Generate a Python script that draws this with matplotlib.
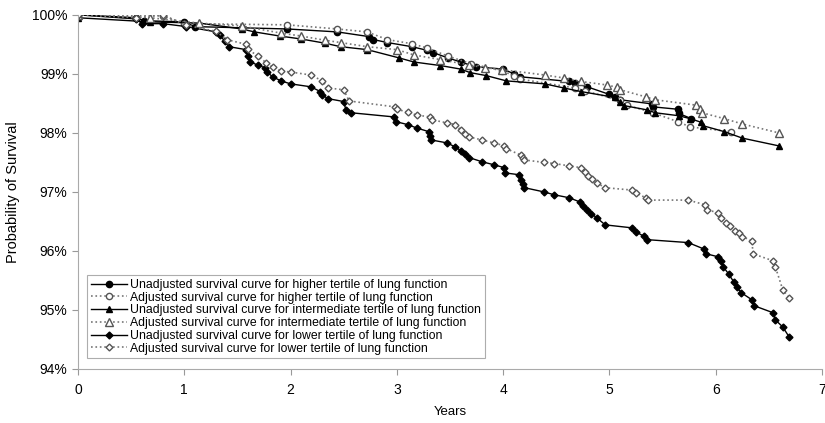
import matplotlib.pyplot as plt
from matplotlib.ticker import FuncFormatter

plt.rcParams['font.family'] = ['Liberation Sans', 'DejaVu Sans']

# higher tertile
hi_unadj_t = [0, 0.55, 0.62, 1.0, 1.1, 1.54, 1.97, 2.44, 2.74, 2.78, 2.91, 3.14, 3.28, 3.34, 3.48,
              3.6, 3.74, 4.0, 4.1, 4.16, 4.62, 4.68, 4.79, 5.0, 5.05, 5.1, 5.4, 5.41, 5.64, 5.65, 5.77]
hi_unadj_v = [100, 99.95, 99.9, 99.88, 99.8, 99.78, 99.76, 99.71, 99.63, 99.58, 99.53, 99.46, 99.4, 99.36, 99.27,
              99.2, 99.12, 99.08, 99.0, 98.95, 98.87, 98.84, 98.78, 98.65, 98.6, 98.56, 98.49, 98.44, 98.4, 98.33, 98.24]
hi_adj_t = [0, 0.8, 1.0, 1.97, 2.44, 2.72, 2.91, 3.14, 3.28, 3.48, 3.7, 3.99, 4.1, 4.16, 4.68, 4.77,
            5.1, 5.16, 5.41, 5.64, 5.76, 6.14]
hi_adj_v = [100, 99.98, 99.85, 99.83, 99.76, 99.71, 99.58, 99.51, 99.44, 99.3, 99.17, 99.05, 98.97, 98.91, 98.76, 98.71,
            98.55, 98.47, 98.34, 98.19, 98.1, 98.02]

# intermediate tertile
int_unadj_t = [0, 0.68, 1.14, 1.54, 1.66, 1.9, 2.1, 2.32, 2.47, 2.72, 3.02, 3.16, 3.41, 3.6, 3.69, 3.84,
               4.03, 4.39, 4.57, 4.73, 5.05, 5.1, 5.14, 5.35, 5.43, 5.65, 5.76, 5.86, 5.88, 6.08, 6.25, 6.59]
int_unadj_v = [99.95, 99.88, 99.86, 99.76, 99.71, 99.64, 99.59, 99.52, 99.46, 99.41, 99.27, 99.2, 99.14, 99.08, 99.02, 98.97,
               98.88, 98.83, 98.76, 98.7, 98.6, 98.52, 98.46, 98.39, 98.34, 98.29, 98.24, 98.18, 98.12, 98.02, 97.91, 97.78]
int_adj_t = [0, 0.68, 1.14, 1.54, 1.91, 2.1, 2.32, 2.47, 2.72, 3.0, 3.16, 3.41, 3.68, 3.83, 3.99,
             4.39, 4.57, 4.73, 4.98, 5.07, 5.1, 5.34, 5.43, 5.81, 5.85, 5.87, 6.08, 6.25, 6.59]
int_adj_v = [100, 99.95, 99.86, 99.81, 99.69, 99.64, 99.57, 99.53, 99.46, 99.41, 99.32, 99.24, 99.15, 99.1, 99.07,
             98.98, 98.93, 98.87, 98.81, 98.77, 98.73, 98.61, 98.56, 98.47, 98.4, 98.34, 98.24, 98.15, 98.0]

# lower tertile
lo_unadj_t = [0, 0.55, 0.6, 0.8, 1.02, 1.3, 1.34, 1.38, 1.42, 1.58, 1.6, 1.62, 1.69, 1.76, 1.78,
              1.83, 1.91, 2.0, 2.19, 2.28, 2.3, 2.35, 2.5, 2.52, 2.57, 2.97, 2.99, 3.1, 3.19, 3.3,
              3.31, 3.32, 3.47, 3.55, 3.6, 3.64, 3.68, 3.8, 3.91, 4.01, 4.02, 4.15, 4.17, 4.19, 4.2,
              4.38, 4.48, 4.62, 4.72, 4.75, 4.79, 4.83, 4.88, 4.96, 5.21, 5.25, 5.32, 5.35, 5.74, 5.89,
              5.91, 6.02, 6.05, 6.07, 6.12, 6.17, 6.2, 6.24, 6.34, 6.36, 6.54, 6.56, 6.63, 6.69]
lo_unadj_v = [100, 99.93, 99.85, 99.85, 99.8, 99.71, 99.65, 99.55, 99.46, 99.41, 99.3, 99.2, 99.15, 99.1, 99.03,
              98.95, 98.88, 98.83, 98.78, 98.7, 98.64, 98.58, 98.53, 98.39, 98.34, 98.27, 98.19, 98.14, 98.08, 98.02,
              97.95, 97.88, 97.83, 97.76, 97.7, 97.64, 97.58, 97.51, 97.46, 97.41, 97.32, 97.29, 97.2, 97.13, 97.07,
              97.0, 96.95, 96.9, 96.83, 96.76, 96.7, 96.63, 96.56, 96.44, 96.39, 96.32, 96.25, 96.19, 96.14, 96.03,
              95.95, 95.9, 95.82, 95.73, 95.61, 95.47, 95.38, 95.29, 95.17, 95.07, 94.95, 94.83, 94.71, 94.54]
lo_adj_t = [0, 0.55, 0.8, 1.02, 1.3, 1.4, 1.58, 1.6, 1.69, 1.77, 1.83, 1.91, 2.0, 2.19, 2.3,
            2.35, 2.5, 2.55, 2.98, 3.0, 3.1, 3.19, 3.31, 3.33, 3.47, 3.55, 3.6, 3.64, 3.68, 3.8,
            3.91, 4.01, 4.03, 4.17, 4.19, 4.2, 4.38, 4.48, 4.62, 4.73, 4.77, 4.8, 4.84, 4.88, 4.96,
            5.21, 5.25, 5.34, 5.36, 5.74, 5.9, 5.92, 6.02, 6.05, 6.1, 6.13, 6.18, 6.22, 6.25, 6.34,
            6.35, 6.54, 6.56, 6.63, 6.69]
lo_adj_v = [100, 99.95, 100, 99.82, 99.72, 99.58, 99.5, 99.42, 99.3, 99.19, 99.12, 99.05, 99.03, 98.98, 98.88,
            98.76, 98.73, 98.54, 98.44, 98.4, 98.35, 98.3, 98.27, 98.22, 98.17, 98.14, 98.05, 97.98, 97.93, 97.88,
            97.83, 97.78, 97.73, 97.62, 97.57, 97.54, 97.5, 97.48, 97.44, 97.41, 97.33, 97.27, 97.22, 97.15, 97.07,
            97.03, 96.98, 96.9, 96.86, 96.86, 96.78, 96.7, 96.64, 96.55, 96.47, 96.42, 96.34, 96.3, 96.24, 96.17,
            95.95, 95.83, 95.73, 95.34, 95.2]

labels = ['Unadjusted survival curve for higher tertile of lung function',
          'Adjusted survival curve for higher tertile of lung function',
          'Unadjusted survival curve for intermediate tertile of lung function',
          'Adjusted survival curve for intermediate tertile of lung function',
          'Unadjusted survival curve for lower tertile of lung function',
          'Adjusted survival curve for lower tertile of lung function']

fig = plt.figure(figsize=(8.25, 4.23), dpi=100)
ax = fig.add_axes([0.0945, 0.128, 0.902, 0.837])

solid = dict(color='black', lw=1.0, ls='-', mfc='black', mec='black')
dotted = dict(color='#777777', lw=1.2, ls=':', mfc='white', mec='#555555', mew=1.0)

ax.plot(hi_unadj_t, hi_unadj_v, marker='o', ms=4.5, label=labels[0], **solid)
ax.plot(hi_adj_t, hi_adj_v, marker='o', ms=4.5, label=labels[1], **dotted)
ax.plot(int_unadj_t, int_unadj_v, marker='^', ms=5, label=labels[2], **solid)
ax.plot(int_adj_t, int_adj_v, marker='^', ms=5.5, label=labels[3], **dotted)
ax.plot(lo_unadj_t, lo_unadj_v, marker='D', ms=3.5, label=labels[4], **solid)
ax.plot(lo_adj_t, lo_adj_v, marker='D', ms=3.5, label=labels[5], **dotted)

ax.set_xlim(0, 7)
ax.set_ylim(94, 100)
ax.set_xticks(range(0, 8))
ax.set_yticks(range(94, 101))
ax.yaxis.set_major_formatter(FuncFormatter(lambda v, p: '%d%%' % v))
ax.tick_params(colors='#999999', labelcolor='black', labelsize=10, length=4)
ax.tick_params(axis='x', pad=6)
for s in ['top', 'right']:
    ax.spines[s].set_visible(False)
for s in ['left', 'bottom']:
    ax.spines[s].set_color('#aaaaaa')

ax.set_xlabel('Years', fontsize=9.5, labelpad=7)
ax.set_ylabel('Probability of Survival', fontsize=10.5, labelpad=9)

leg = ax.legend(loc='lower left', bbox_to_anchor=(0.012, 0.03), fontsize=8.8, frameon=True,
                fancybox=False, edgecolor='#999999', handlelength=3.0, labelspacing=0.06,
                borderpad=0.3, handletextpad=0.25, borderaxespad=0, numpoints=1)
leg.get_frame().set_linewidth(0.8)

fig.savefig('out.png', dpi=100)
